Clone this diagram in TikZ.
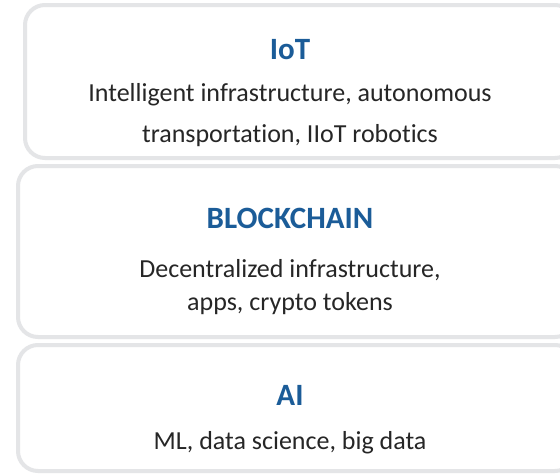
\documentclass[tikz,border=0pt]{standalone}
\usepackage{fontspec}
\setmainfont[Ligatures={NoCommon}]{Carlito}
\definecolor{boxline}{HTML}{E4E5E7}
\definecolor{titleblue}{HTML}{1B5C98}
\definecolor{bodytext}{HTML}{262626}
\tikzset{
  layerbox/.style={draw=boxline, line width=4pt, rounded corners=20pt, fill=white},
  titletext/.style={anchor=base, inner sep=0pt, text=titleblue, font=\fontsize{31}{36}\selectfont\bfseries},
  bodytxt/.style={anchor=base, inner sep=0pt, text=bodytext, font=\fontsize{26}{30}\selectfont},
}
\begin{document}
\begin{tikzpicture}[x=1pt,y=-1pt]
\useasboundingbox (0,0) rectangle (560,474);
\clip (0,0) rectangle (560,474);
\fill[white] (0,0) rectangle (560,474);
% boxes
\draw[layerbox] (25,5) rectangle (575,158);
\draw[layerbox] (18,166) rectangle (575,337);
\draw[layerbox] (18,345) rectangle (575,471);
% top
\node[titletext] (iot) at (290,59) {IoT};
\node[bodytxt] (iot1) at (290,101) {Intelligent infrastructure, autonomous};
\node[bodytxt] (iot2) at (290,142) {transportation, IIoT robotics};
% middle
\node[titletext] (bc) at (290,228) {BLOCKCHAIN};
\node[bodytxt] (bc1) at (290,277) {Decentralized infrastructure,};
\node[bodytxt] (bc2) at (290,310) {apps, crypto tokens};
% bottom
\node[titletext] (ai) at (290,405) {AI};
\node[bodytxt] (ai1) at (290,449) {ML, data science, big data};
\end{tikzpicture}
\end{document}
